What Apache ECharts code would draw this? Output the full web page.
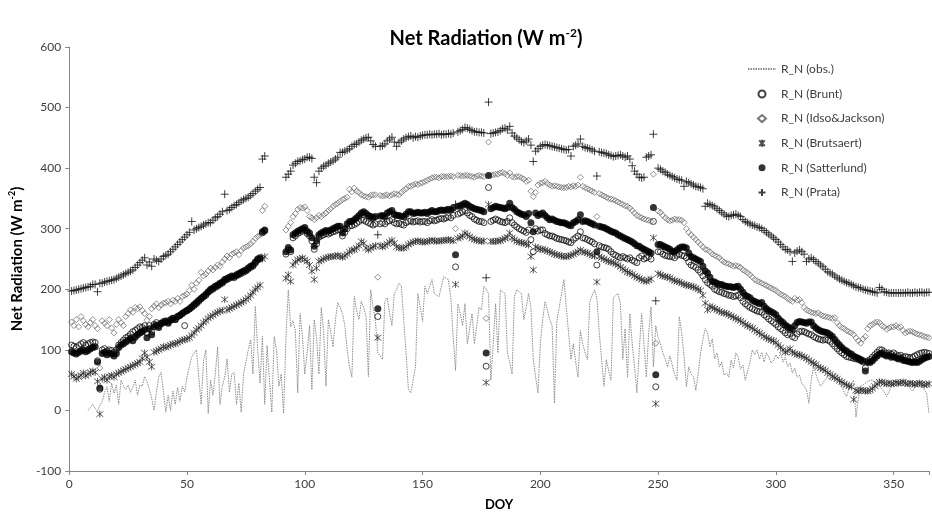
<!DOCTYPE html>
<html>
<head>
<meta charset="utf-8">
<script src="https://cdn.jsdelivr.net/npm/echarts@6/dist/echarts.min.js"></script>
<style>
  html, body { margin: 0; padding: 0; background: #fff; }
  #chart { width: 932px; height: 519px; }
</style>
</head>
<body>
<div id="chart"></div>
<script>
// day of year, 1..365
const days = [];
for (let d = 1; d <= 365; d++) days.push(d);

const seriesNames = ['R_N (obs.)', 'R_N (Brunt)', 'R_N (Idso&Jackson)', 'R_N (Brutsaert)', 'R_N (Satterlund)', 'R_N (Prata)'];
const xTicks = [0, 50, 100, 150, 200, 250, 300, 350];
const yTicks = [-100, 0, 100, 200, 300, 400, 500, 600];

const N = null;

// observed net radiation (W m-2), days 1..365
const obs = [
  N,N,N,N,N,N,N,0,5,10,
  3,0,8,15,30,39,15,45,28,42,
  10,50,40,35,42,30,38,50,25,42,
  40,56,48,35,20,0,30,55,63,30,
  -3,25,0,32,10,38,15,40,30,55,
  72,88,95,100,55,10,82,100,-5,50,
  25,60,105,10,40,55,85,30,60,63,
  10,45,-3,60,80,100,117,60,172,100,
  45,122,10,107,50,-3,122,100,40,60,
  -5,120,199,138,148,132,29,160,122,60,
  95,140,34,150,120,60,170,130,40,150,
  130,105,150,178,170,160,140,100,72,55,
  188,165,150,180,170,155,56,199,170,147,
  95,90,84,180,186,160,140,193,200,210,
  205,150,95,34,29,50,72,193,170,147,
  205,193,205,216,193,190,188,205,221,218,
  216,186,120,66,176,160,140,176,110,135,
  160,110,140,170,166,205,200,193,50,110,
  176,95,199,196,193,95,80,60,188,199,
  196,193,150,170,193,170,84,55,29,110,
  150,180,166,150,140,12,147,170,193,216,
  170,128,84,110,80,55,132,110,95,84,
  180,190,199,186,130,84,40,84,65,50,
  186,190,193,176,84,135,55,160,110,72,
  29,100,160,110,55,128,171,72,140,120,
  110,95,85,72,90,75,60,50,155,128,
  90,39,72,60,56,33,60,95,117,135,
  128,105,118,85,95,72,80,58,62,55,
  83,70,95,88,68,75,50,65,80,100,
  92,100,85,96,80,95,88,78,83,92,
  85,95,80,88,72,78,62,70,55,58,
  45,40,34,12,50,72,60,48,40,45,
  52,55,50,58,62,60,48,38,30,23,
  35,45,50,-11,20,40,42,45,48,50,
  50,46,42,40,35,30,23,30,40,50,
  48,46,44,45,45,40,36,32,38,42,
  45,40,34,28,-5
];

const brunt = [
  108,106,104,107,110,112,108,110,112,113,
  112,82,35,100,102,98,100,99,96,100,
  108,112,116,120,122,126,130,132,135,138,
  137,140,128,140,130,142,145,140,144,147,
  148,146,150,152,150,155,157,160,140,165,
  167,170,173,176,180,184,188,190,195,198,
  200,203,205,208,210,214,216,218,220,219,
  222,224,226,228,230,233,236,238,243,248,
  250,293,296,N,N,N,N,N,N,N,
  N,258,265,262,285,288,292,294,296,298,
  292,288,280,266,275,286,288,290,292,291,
  293,295,296,298,298,288,294,300,305,305,
  307,309,312,315,314,312,310,308,306,308,
  155,308,310,308,312,313,315,310,308,309,
  307,306,310,312,313,311,312,313,311,312,
  312,310,313,315,313,314,316,317,316,318,
  320,318,322,237,324,326,328,330,326,322,
  320,316,314,312,312,310,73,368,312,314,
  316,314,312,311,310,312,318,310,306,303,
  300,298,296,294,298,282,262,300,296,298,
  298,292,290,288,288,286,284,283,282,281,
  280,278,277,282,285,288,295,285,284,282,
  280,278,275,240,272,270,269,268,266,262,
  258,256,254,252,254,252,250,252,248,246,
  244,252,255,250,252,254,250,312,39,262,
  262,258,256,255,254,254,252,256,258,256,
  255,252,245,240,238,236,232,228,222,216,
  211,208,205,200,198,196,195,193,192,190,
  190,188,189,190,186,180,176,173,170,168,
  166,164,163,162,158,155,151,148,145,142,
  138,135,132,128,125,127,122,120,126,130,
  131,130,128,126,125,122,120,118,117,116,
  117,116,114,110,106,102,98,95,92,89,
  88,87,86,85,84,82,80,70,82,84,
  88,92,96,100,100,97,94,95,93,95,
  92,90,91,88,89,88,87,88,90,92,
  94,95,96,95,94
];

const idso = [
  146,140,150,138,155,148,142,138,145,150,
  140,135,70,148,144,140,150,136,128,142,
  150,145,140,155,160,166,162,170,168,171,
  165,160,149,155,168,172,176,170,174,177,
  178,180,176,182,180,185,180,188,190,192,
  198,207,200,210,215,228,222,225,230,235,
  232,236,240,238,245,250,255,252,258,260,
  262,257,264,268,270,272,275,279,284,287,
  290,330,337,N,N,N,N,N,N,N,
  N,298,304,310,320,325,332,335,334,336,
  330,320,318,315,318,322,320,323,326,330,
  333,337,340,342,345,348,350,352,365,361,
  367,362,360,356,354,353,352,355,356,356,
  220,355,354,355,356,354,356,358,357,356,
  360,363,366,370,370,372,374,373,375,376,
  378,380,382,384,385,385,384,386,386,386,
  386,387,386,300,388,388,387,388,388,387,
  386,385,387,388,387,386,152,443,388,389,
  390,390,392,393,391,388,392,386,385,386,
  386,384,382,378,380,362,353,360,372,375,
  376,378,375,372,370,371,370,369,368,368,
  368,370,369,371,370,372,385,370,368,366,
  364,362,360,320,358,356,354,352,350,349,
  348,346,344,342,340,338,337,334,330,326,
  322,320,318,316,315,314,312,390,111,329,
  327,322,318,315,313,314,316,315,315,314,
  310,300,294,290,286,282,278,274,270,266,
  265,262,258,256,254,252,248,245,243,242,
  240,238,239,238,236,232,230,227,224,220,
  216,214,212,210,208,206,204,202,200,198,
  195,192,190,188,185,182,180,185,182,183,
  178,170,166,164,162,161,160,161,158,156,
  155,154,153,152,153,145,140,137,135,132,
  130,128,125,120,115,111,118,122,135,140,
  142,145,146,145,140,138,134,136,138,138,
  140,137,138,132,128,130,131,130,128,126,
  125,124,122,121,120
];

const brutsaert = [
  60,56,52,55,58,62,57,60,63,65,
  63,48,-6,52,55,50,56,58,55,60,
  62,64,66,68,70,72,74,76,78,80,
  86,95,88,80,72,96,98,100,102,105,
  104,106,108,110,110,112,114,116,117,118,
  120,124,128,133,136,140,145,148,152,155,
  157,160,162,164,165,183,166,168,170,172,
  174,176,178,180,183,186,190,195,200,203,
  207,250,254,N,N,N,N,N,N,N,
  N,218,224,213,240,245,249,250,252,249,
  246,240,230,216,235,246,248,250,252,253,
  254,254,255,256,254,253,255,258,262,265,
  265,268,272,279,276,268,265,268,270,272,
  120,272,270,272,275,278,281,276,270,268,
  268,268,270,274,276,278,279,280,279,278,
  278,279,280,281,280,279,280,280,281,281,
  282,281,280,208,284,286,288,293,290,287,
  284,282,281,280,279,280,46,340,279,279,
  279,280,280,282,284,286,293,285,282,279,
  278,277,276,275,273,254,232,270,268,266,
  266,265,263,262,260,258,257,256,255,254,
  254,255,256,258,260,262,265,262,261,260,
  258,256,255,212,254,252,250,248,246,245,
  244,242,240,237,234,231,228,227,225,222,
  220,218,216,214,213,215,217,285,11,226,
  224,222,221,220,219,216,214,213,212,210,
  208,207,206,205,204,202,200,198,190,177,
  166,172,170,168,166,164,162,161,160,158,
  156,154,152,150,148,145,142,140,138,136,
  133,130,128,125,122,120,118,116,115,112,
  108,104,100,96,98,102,96,94,92,92,
  90,88,86,83,80,78,76,72,70,68,
  66,62,60,56,54,52,49,47,44,42,
  40,39,18,33,32,34,33,32,32,33,
  36,40,44,47,47,45,44,45,44,44,
  46,45,46,47,45,44,45,44,43,44,
  45,44,42,43,44
];

const satterlund = [
  97,95,93,96,98,100,97,99,102,104,
  105,80,37,94,96,92,95,93,90,94,
  104,108,110,113,116,119,115,121,125,128,
  130,133,120,135,125,138,141,137,143,145,
  147,144,149,152,150,155,157,160,163,165,
  168,171,175,178,182,185,188,192,196,200,
  202,205,207,210,212,216,218,220,222,221,
  224,226,228,230,232,235,238,240,245,250,
  252,295,298,N,N,N,N,N,N,N,
  N,262,269,265,290,293,296,298,300,302,
  296,293,285,271,280,290,293,295,297,296,
  298,300,302,304,304,293,300,308,312,312,
  315,318,322,326,328,325,322,320,318,320,
  168,321,322,320,326,328,330,324,322,322,
  320,320,324,328,328,325,326,327,326,326,
  327,325,328,330,328,328,330,331,330,331,
  332,331,334,257,337,338,340,342,340,337,
  335,333,332,331,330,328,95,388,333,335,
  337,336,335,334,333,335,342,335,332,328,
  326,324,323,320,325,310,295,326,322,324,
  326,322,318,315,316,314,312,311,310,310,
  308,306,305,310,312,315,323,312,313,312,
  310,308,306,262,304,303,302,300,298,296,
  294,293,290,288,286,284,282,280,278,275,
  272,271,268,266,264,262,260,335,59,274,
  274,272,270,268,266,263,262,265,268,270,
  270,268,260,254,252,250,248,246,238,230,
  227,220,213,212,210,208,208,206,205,204,
  204,203,204,205,200,195,190,188,186,182,
  180,178,176,178,172,168,165,163,161,158,
  152,148,145,141,138,136,133,140,145,147,
  146,145,144,146,146,140,136,133,131,130,
  129,128,125,122,117,112,108,104,100,98,
  95,93,90,88,86,84,82,65,80,79,
  82,86,90,93,95,92,90,91,88,89,
  87,85,86,83,82,81,80,79,80,79,
  81,84,86,88,89
];

const prata = [
  197,198,199,200,201,202,203,204,205,208,
  208,196,210,210,212,213,214,215,216,218,
  220,222,224,226,228,230,232,236,240,244,
  248,252,240,245,238,250,248,246,250,254,
  256,258,262,266,270,274,278,282,286,290,
  294,312,298,300,302,304,306,308,310,310,
  314,318,320,324,328,357,330,332,335,338,
  340,343,346,348,350,352,355,358,362,365,
  368,415,420,N,N,N,N,N,N,N,
  N,385,390,395,405,408,411,412,414,415,
  418,418,416,385,376,395,400,403,405,408,
  410,412,415,418,426,426,428,430,432,436,
  439,440,443,446,448,450,451,445,439,436,
  290,436,437,440,445,448,451,443,436,442,
  445,448,450,452,453,450,452,451,453,454,
  455,455,456,455,456,456,457,455,456,456,
  457,456,458,340,460,462,464,467,466,464,
  462,460,460,459,459,458,219,509,457,458,
  459,460,462,465,466,463,469,458,453,450,
  447,444,442,445,448,438,411,428,432,436,
  438,439,438,437,436,435,434,433,432,431,
  430,431,420,436,438,440,448,436,434,433,
  432,430,428,387,427,426,425,424,422,421,
  419,420,421,422,420,418,420,415,404,395,
  390,385,384,385,418,420,422,456,181,400,
  398,395,393,390,388,386,384,382,381,380,
  370,378,376,374,372,370,369,368,366,337,
  342,340,338,336,333,330,327,324,321,320,
  322,323,324,322,320,315,312,310,308,306,
  305,303,302,300,297,294,291,288,285,282,
  278,274,270,266,265,262,246,260,263,265,
  262,258,246,250,252,249,246,243,240,237,
  233,229,227,225,222,219,217,215,213,211,
  210,208,206,204,203,202,200,199,198,197,
  196,195,194,203,200,196,195,194,194,194,
  194,194,194,194,194,195,194,194,195,194,
  195,195,194,195,195
];

const FONT = 'Lato, "Liberation Sans", sans-serif';

function pairs(values) {
  const out = [];
  for (let i = 0; i < days.length; i++) {
    if (values[i] !== null && values[i] !== undefined) out.push([days[i], values[i]]);
  }
  return out;
}

const PLUS = 'path://M5,0L5,10M0,5L10,5';
const STAR = 'path://M1,1L9,9M9,1L1,9M5,0L5,10';

let chart = echarts.init(document.getElementById('chart'), null, { renderer: 'canvas' });

const legendText = { fontFamily: FONT, fontSize: 12, color: '#404040' };

chart.setOption({
  backgroundColor: '#fff',
  animation: false,
  title: {
    text: '{t|Net Radiation (W m}{s|-2}{t|)}',
    left: 481,
    top: 22,
    textAlign: 'center',
    textStyle: {
      rich: {
        t: { fontFamily: FONT, fontSize: 20, fontWeight: 'bold', color: '#000', lineHeight: 24 },
        s: { fontFamily: FONT, fontSize: 12, fontWeight: 'bold', color: '#000', verticalAlign: 'top', lineHeight: 14 }
      }
    }
  },
  legend: [
    {
      // line entry
      orient: 'vertical',
      left: 742,
      top: 58,
      itemWidth: 28,
      itemHeight: 7,
      textStyle: legendText,
      data: [seriesNames[0]]
    },
    {
      // marker entries
      orient: 'vertical',
      left: 752,
      top: 83,
      itemWidth: 8,
      itemHeight: 7,
      itemGap: 12.6,
      textStyle: Object.assign({ padding: [0, 0, 0, 10] }, legendText),
      data: seriesNames.slice(1)
    }
  ],
  grid: { left: 66, right: 2, top: 47, bottom: 48 },
  xAxis: {
    type: 'value',
    min: 0,
    max: 365,
    interval: 50,
    name: 'DOY',
    nameLocation: 'middle',
    nameGap: 27,
    nameTextStyle: { fontFamily: FONT, fontSize: 13, fontWeight: 'bold', color: '#000' },
    splitLine: { show: false },
    axisLine: { onZero: false, lineStyle: { color: '#868686', width: 1 } },
    axisTick: { lineStyle: { color: '#868686' }, length: 4 },
    axisLabel: {
      fontFamily: FONT, fontSize: 12, color: '#404040', margin: 7,
      formatter: v => (xTicks.indexOf(v) >= 0 ? String(v) : '')
    }
  },
  yAxis: {
    type: 'value',
    min: -100,
    max: 600,
    interval: 100,
    name: '{t|Net Radiation (W m}{s|-2}{t|)}',
    nameLocation: 'middle',
    nameGap: 32,
    nameTextStyle: {
      rich: {
        t: { fontFamily: FONT, fontSize: 15, fontWeight: 'bold', color: '#000', lineHeight: 19 },
        s: { fontFamily: FONT, fontSize: 9, fontWeight: 'bold', color: '#000', verticalAlign: 'top', lineHeight: 11 }
      }
    },
    splitLine: { show: false },
    axisLine: { show: true, lineStyle: { color: '#868686', width: 1 } },
    axisTick: { show: true, lineStyle: { color: '#868686' }, length: 4 },
    axisLabel: {
      fontFamily: FONT, fontSize: 12, color: '#404040', margin: 8,
      formatter: v => (yTicks.indexOf(v) >= 0 ? String(v) : '')
    }
  },
  series: [
    {
      name: seriesNames[0],
      type: 'line',
      data: pairs(obs),
      symbol: 'none',
      lineStyle: { color: '#8c8c8c', width: 1, type: [1.5, 1] },
      itemStyle: { color: 'rgba(255,255,255,0)', borderWidth: 0 },
      z: 1
    },
    {
      name: seriesNames[1],
      type: 'scatter',
      data: pairs(brunt),
      symbol: 'circle',
      symbolSize: 6,
      itemStyle: { color: 'rgba(255,255,255,0)', borderColor: '#111', borderWidth: 1 },
      z: 2
    },
    {
      name: seriesNames[2],
      type: 'scatter',
      data: pairs(idso),
      symbol: 'diamond',
      symbolSize: 6,
      itemStyle: { color: 'rgba(255,255,255,0)', borderColor: '#555', borderWidth: 0.8 },
      z: 3
    },
    {
      name: seriesNames[3],
      type: 'scatter',
      data: pairs(brutsaert),
      symbol: STAR,
      symbolSize: 7,
      itemStyle: { color: '#000', borderColor: '#222', borderWidth: 0.9 },
      z: 4
    },
    {
      name: seriesNames[4],
      type: 'scatter',
      data: pairs(satterlund),
      symbol: 'circle',
      symbolSize: 7,
      itemStyle: { color: '#000', borderWidth: 0 },
      z: 5
    },
    {
      name: seriesNames[5],
      type: 'scatter',
      data: pairs(prata),
      symbol: PLUS,
      symbolSize: 8,
      itemStyle: { color: '#000', borderColor: '#111', borderWidth: 1 },
      z: 6
    }
  ]
});
</script>
</body>
</html>
